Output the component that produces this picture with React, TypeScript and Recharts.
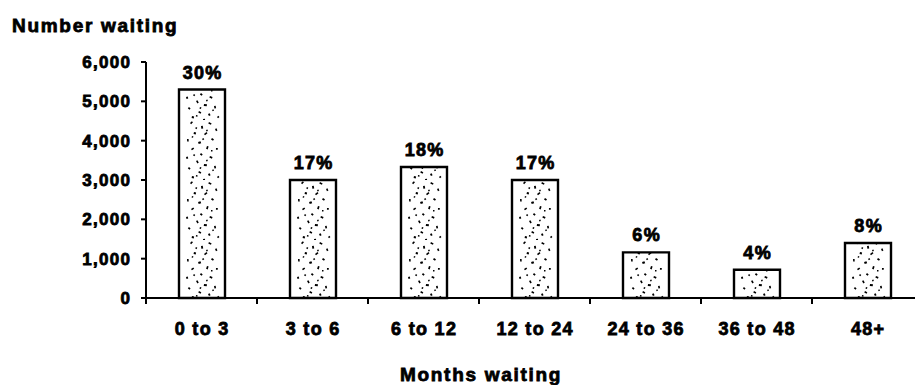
import React from 'react';
import { BarChart, Bar, XAxis, YAxis, LabelList } from 'recharts';

// Patients on the waiting list, grouped by months waited
const categories = ['0 to 3', '3 to 6', '6 to 12', '12 to 24', '24 to 36', '36 to 48', '48+'];
const waiting = [5300, 3000, 3330, 3000, 1160, 720, 1400];
const shares = ['30%', '17%', '18%', '17%', '6%', '4%', '8%'];
const yTicks = [0, 1000, 2000, 3000, 4000, 5000, 6000];
// Category boundaries on a 0..n index scale, used for the between-bar ticks
const boundaries = [0, 1, 2, 3, 4, 5, 6, 7];

const data = categories.map((range, i) => ({ range, waiting: waiting[i], share: shares[i], pos: i + 0.5 }));

const FONT = '"Liberation Sans", Arial, Helvetica, sans-serif';
const LS = 1.3;

const textStyle: React.CSSProperties = {
  fontFamily: FONT,
  fontWeight: 700,
  fontSize: 18,
  letterSpacing: LS,
  fill: '#000',
  stroke: '#000',
  strokeWidth: 0.8,
};

const htmlText: React.CSSProperties = {
  position: 'absolute',
  fontFamily: FONT,
  fontWeight: 700,
  fontSize: 19,
  lineHeight: '19px',
  letterSpacing: 1.7,
  whiteSpace: 'nowrap',
  color: '#000',
  WebkitTextStroke: '0.8px #000',
};

const YTick = (props: any) => {
  const { x, y, payload } = props;
  return (
    <text x={x + LS} y={y} dy={6} textAnchor="end" style={{ ...textStyle, fontSize: 17 }}>
      {Number(payload.value).toLocaleString('en-US')}
    </text>
  );
};

const XTick = (props: any) => {
  const { x, y, payload } = props;
  return (
    <text x={x + LS / 2} y={y + 36} textAnchor="middle" style={textStyle}>
      {payload.value}
    </text>
  );
};

const NoLabel = () => <g />;

const ShareLabel = (props: any) => {
  const { x, y, width, value } = props;
  return (
    <text x={x + width / 2 + LS / 2} y={y - 11} textAnchor="middle" style={textStyle}>
      {value}
    </text>
  );
};

const black = { stroke: '#000', strokeWidth: 2 };

// Irregular specks for the stippled bar fill (tile spans one category band)
const specks: [number, number, number, number][] = [
  [44, 3, 2.6, 1.6], [55, 6, 1.8, 2.8], [63, 2, 3.0, 1.6], [69, 9, 1.6, 2.4],
  [48, 12, 2.2, 2.0], [58, 14, 3.2, 1.6], [41, 19, 1.6, 2.6], [66, 18, 2.4, 1.8],
  [52, 22, 2.6, 2.2], [61, 26, 1.7, 3.0], [45, 29, 2.8, 1.6], [70, 28, 1.8, 1.8],
  [55, 33, 2.2, 1.8], [40, 37, 1.8, 2.0], [64, 36, 2.8, 1.7], [50, 41, 1.6, 2.8],
  [58, 44, 3.0, 1.9], [43, 47, 2.2, 1.7], [68, 46, 1.7, 2.6], [53, 51, 2.6, 1.6],
  [62, 54, 1.8, 2.2], [46, 56, 2.2, 2.0], [71, 57, 1.8, 1.6], [57, 59, 2.0, 1.6],
  [50, 7, 1.6, 1.6], [60, 10, 1.5, 1.5], [46, 16, 1.5, 1.5], [56, 19, 1.6, 1.6],
  [65, 30, 1.5, 1.5], [48, 34, 1.6, 1.6], [60, 40, 1.5, 1.5], [54, 47, 1.6, 1.6],
  [66, 50, 1.5, 1.5], [50, 55, 1.6, 1.6],
];

export default function App() {
  return (
    <div style={{ position: 'absolute', left: 0, top: 0, width: 915, height: 385, background: '#fff', overflow: 'hidden' }}>
      <div style={{ ...htmlText, left: 12, top: 16 }}>Number waiting</div>
      <BarChart
        width={915}
        height={385}
        data={data}
        margin={{ top: 62, right: -8, bottom: 46, left: 0 }}
      >
        <defs>
          <pattern id="speckle" x="146" y="0" width="111" height="60" patternUnits="userSpaceOnUse">
            <rect width="111" height="60" fill="#fff" />
            <g fill="#000">
              {specks.map(([sx, sy, w, h], i) => (
                <rect key={i} x={sx} y={sy} width={w} height={h} transform={`rotate(${(i * 37) % 90 - 45} ${sx} ${sy})`} />
              ))}
            </g>
          </pattern>
        </defs>
        <XAxis
          xAxisId="bounds"
          type="number"
          dataKey="pos"
          domain={[0, 7]}
          ticks={boundaries}
          tick={<NoLabel />}
          axisLine={black}
          tickLine={black}
          tickSize={6}
          height={1}
          allowDataOverflow
        />
        <XAxis
          xAxisId="cat"
          dataKey="range"
          axisLine={false}
          tickLine={false}
          tickSize={0}
          tickMargin={0}
          height={40}
          interval={0}
          tick={<XTick />}
        />
        <YAxis
          width={146}
          domain={[0, 6000]}
          ticks={yTicks}
          interval={0}
          axisLine={black}
          tickLine={black}
          tickSize={5}
          tickMargin={11}
          tick={<YTick />}
        />
        <Bar
          xAxisId="cat"
          dataKey="waiting"
          barSize={46}
          fill="url(#speckle)"
          stroke="#000"
          strokeWidth={2.4}
          isAnimationActive={false}
        >
          <LabelList dataKey="share" content={<ShareLabel />} />
        </Bar>
      </BarChart>
      <div style={{ ...htmlText, left: 0, width: 962, top: 365, textAlign: 'center' }}>Months waiting</div>
    </div>
  );
}
